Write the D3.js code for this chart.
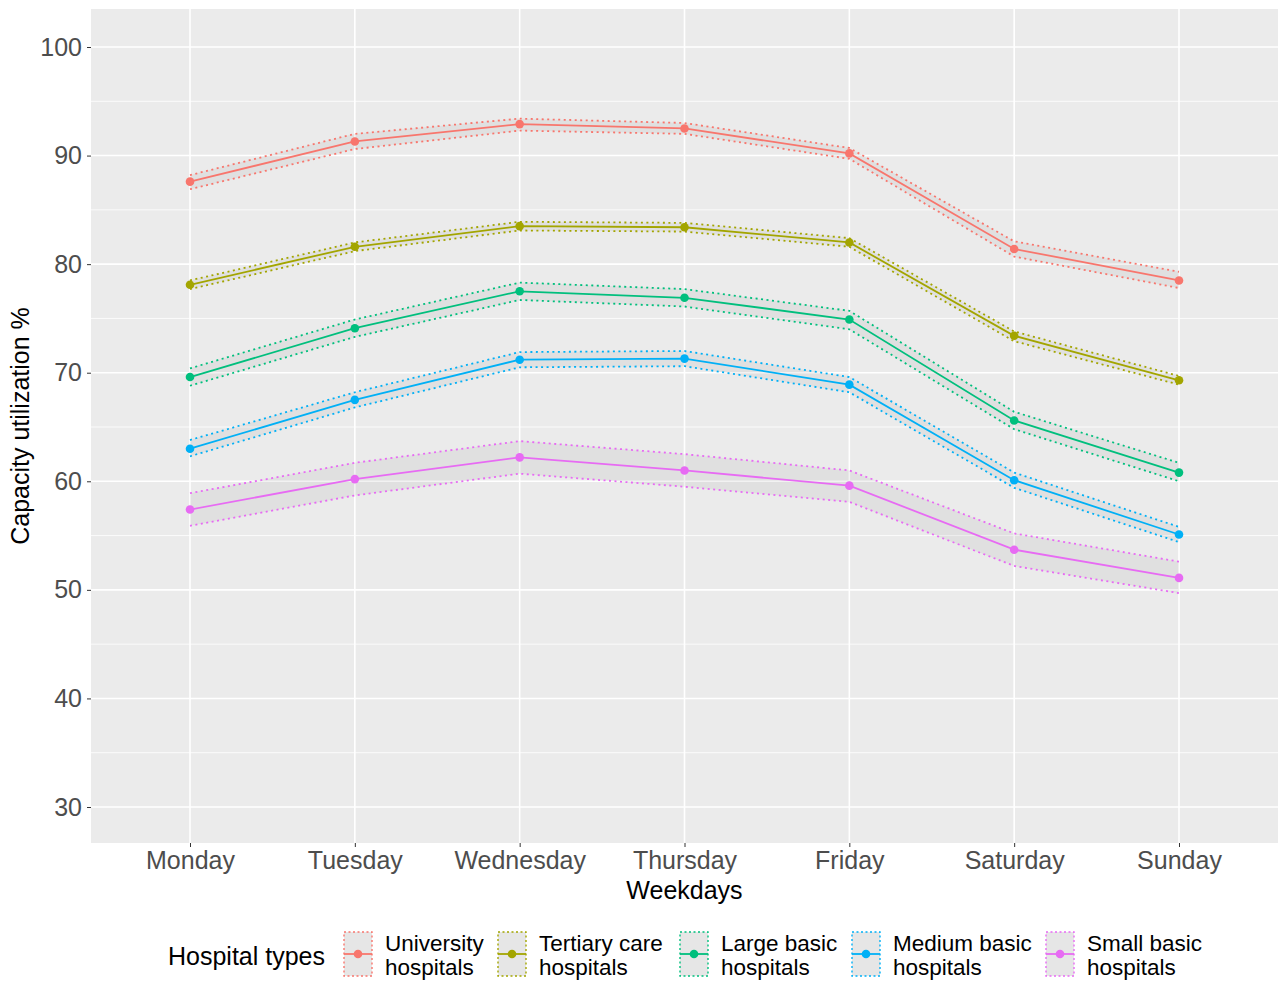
<!DOCTYPE html>
<html>
<head>
<meta charset="utf-8">
<script src="https://cdn.jsdelivr.net/npm/d3@7"></script>
<style>
  body { margin: 0; background: #fff; }
  text { font-family: "Liberation Sans", Arial, Helvetica, sans-serif; }
</style>
</head>
<body>
<div id="chart"></div>
<script>
// weekdays on the x axis
var days = ['Monday','Tuesday','Wednesday','Thursday','Friday','Saturday','Sunday'];

// hospital types (legend labels, two lines each)
var hospitalTypes = ['University hospitals','Tertiary care hospitals','Large basic hospitals',
                     'Medium basic hospitals','Small basic hospitals'];
var legendLines = [['University','hospitals'],['Tertiary care','hospitals'],['Large basic','hospitals'],
                   ['Medium basic','hospitals'],['Small basic','hospitals']];
var typeColors = ['#F8766D','#A3A500','#00BF7D','#00B0F6','#E76BF3'];

// mean capacity utilization % per weekday
var universityMean = [87.6, 91.3, 92.9, 92.5, 90.2, 81.4, 78.5];
var tertiaryMean   = [78.1, 81.6, 83.5, 83.4, 82.0, 73.4, 69.3];
var largeMean      = [69.6, 74.1, 77.5, 76.9, 74.9, 65.6, 60.8];
var mediumMean     = [63.0, 67.5, 71.2, 71.3, 68.9, 60.1, 55.1];
var smallMean      = [57.4, 60.2, 62.2, 61.0, 59.6, 53.7, 51.1];

// lower / upper confidence bounds
var universityLow  = [86.9, 90.6, 92.3, 92.0, 89.7, 80.7, 77.8];
var universityHigh = [88.2, 92.0, 93.4, 93.0, 90.7, 82.1, 79.3];
var tertiaryLow    = [77.7, 81.2, 83.1, 83.0, 81.6, 72.9, 68.9];
var tertiaryHigh   = [78.5, 82.0, 83.9, 83.8, 82.4, 73.8, 69.7];
var largeLow       = [68.8, 73.3, 76.7, 76.1, 74.0, 64.8, 60.0];
var largeHigh      = [70.4, 74.9, 78.3, 77.7, 75.7, 66.4, 61.7];
var mediumLow      = [62.3, 66.8, 70.5, 70.6, 68.2, 59.4, 54.4];
var mediumHigh     = [63.8, 68.2, 71.9, 72.0, 69.6, 60.8, 55.8];
var smallLow       = [55.9, 58.7, 60.7, 59.5, 58.1, 52.2, 49.7];
var smallHigh      = [58.9, 61.7, 63.7, 62.5, 61.0, 55.2, 52.6];

var yTicks = [30, 40, 50, 60, 70, 80, 90, 100];
var yMinor = [35, 45, 55, 65, 75, 85, 95];

var series = [
  {mean: universityMean, low: universityLow, high: universityHigh},
  {mean: tertiaryMean,   low: tertiaryLow,   high: tertiaryHigh},
  {mean: largeMean,      low: largeLow,      high: largeHigh},
  {mean: mediumMean,     low: mediumLow,     high: mediumHigh},
  {mean: smallMean,      low: smallLow,      high: smallHigh}
];

var W = 1280, H = 983;
var panel = {left: 91, right: 1278, top: 9, bottom: 843};

var svg = d3.select("#chart").append("svg")
  .attr("width", W).attr("height", H);

var x = d3.scalePoint()
  .domain(days)
  .range([190, 1179]);

var y = d3.scaleLinear()
  .domain([30, 100])
  .range([807, 47]);

// panel background
svg.append("rect")
  .attr("x", panel.left).attr("y", panel.top)
  .attr("width", panel.right - panel.left).attr("height", panel.bottom - panel.top)
  .attr("fill", "#EBEBEB");

// grid lines
svg.selectAll(".minor").data(yMinor).enter().append("line")
  .attr("x1", panel.left).attr("x2", panel.right)
  .attr("y1", function(d) { return y(d); }).attr("y2", function(d) { return y(d); })
  .attr("stroke", "#fff").attr("stroke-width", 0.8);
svg.selectAll(".major").data(yTicks).enter().append("line")
  .attr("x1", panel.left).attr("x2", panel.right)
  .attr("y1", function(d) { return y(d); }).attr("y2", function(d) { return y(d); })
  .attr("stroke", "#fff").attr("stroke-width", 1.6);
svg.selectAll(".vgrid").data(days).enter().append("line")
  .attr("x1", function(d) { return x(d); }).attr("x2", function(d) { return x(d); })
  .attr("y1", panel.top).attr("y2", panel.bottom)
  .attr("stroke", "#fff").attr("stroke-width", 1.6);

// axes
var yAxis = svg.append("g")
  .attr("transform", "translate(" + panel.left + ",0)")
  .call(d3.axisLeft(y).tickValues(yTicks).tickSize(4).tickPadding(5));
var xAxis = svg.append("g")
  .attr("transform", "translate(0," + panel.bottom + ")")
  .call(d3.axisBottom(x).tickSize(4).tickPadding(4));
[yAxis, xAxis].forEach(function(a) {
  a.select(".domain").remove();
  a.selectAll("line").attr("stroke", "#333").attr("stroke-width", 1);
  a.selectAll("text").attr("fill", "#4D4D4D").style("font-size", "25px")
    .style("font-family", '"Liberation Sans", Arial, sans-serif');
});

svg.append("text")
  .attr("x", (panel.left + panel.right) / 2).attr("y", 899)
  .attr("text-anchor", "middle").style("font-size", "25px")
  .text("Weekdays");

svg.append("text")
  .attr("transform", "translate(29," + ((panel.top + panel.bottom) / 2) + ") rotate(-90)")
  .attr("text-anchor", "middle").style("font-size", "25px")
  .text("Capacity utilization %");

// ribbons, bounds, lines, points
var area = d3.area()
  .x(function(d, i) { return x(days[i]); })
  .y0(function(d) { return y(d[0]); })
  .y1(function(d) { return y(d[1]); });
var line = d3.line()
  .x(function(d, i) { return x(days[i]); })
  .y(function(d) { return y(d); });

series.forEach(function(s, k) {
  var band = s.low.map(function(v, i) { return [v, s.high[i]]; });
  svg.append("path").attr("d", area(band))
    .attr("fill", "#999").attr("fill-opacity", 0.13);
});
series.forEach(function(s, k) {
  var g = svg.append("g");
  [s.low, s.high].forEach(function(b) {
    g.append("path").attr("d", line(b))
      .attr("fill", "none").attr("stroke", typeColors[k])
      .attr("stroke-width", 1.8).attr("stroke-dasharray", "2,3.5");
  });
  g.append("path").attr("d", line(s.mean))
    .attr("fill", "none").attr("stroke", typeColors[k]).attr("stroke-width", 1.8);
  g.selectAll("circle").data(s.mean).enter().append("circle")
    .attr("cx", function(d, i) { return x(days[i]); })
    .attr("cy", function(d) { return y(d); })
    .attr("r", 4.3).attr("fill", typeColors[k]);
});

// legend
svg.append("text")
  .attr("x", 168).attr("y", 965)
  .style("font-size", "25px")
  .text("Hospital types");

var keyX = [344, 498, 680, 852, 1046];
hospitalTypes.forEach(function(t, k) {
  var g = svg.append("g").attr("transform", "translate(" + keyX[k] + ",932)");
  g.append("rect").attr("x", 0).attr("y", 0).attr("width", 28).attr("height", 44)
    .attr("fill", "#E6E6E6").attr("stroke", typeColors[k])
    .attr("stroke-width", 1.4).attr("stroke-dasharray", "2,2.5");
  g.append("line").attr("x1", 0).attr("x2", 28).attr("y1", 22).attr("y2", 22)
    .attr("stroke", typeColors[k]).attr("stroke-width", 1.8);
  g.append("circle").attr("cx", 14).attr("cy", 22).attr("r", 4.3).attr("fill", typeColors[k]);
  g.append("text").attr("x", 41).attr("y", 19)
    .style("font-size", "22.5px").text(legendLines[k][0]);
  g.append("text").attr("x", 41).attr("y", 43)
    .style("font-size", "22.5px").text(legendLines[k][1]);
});
</script>
</body>
</html>
